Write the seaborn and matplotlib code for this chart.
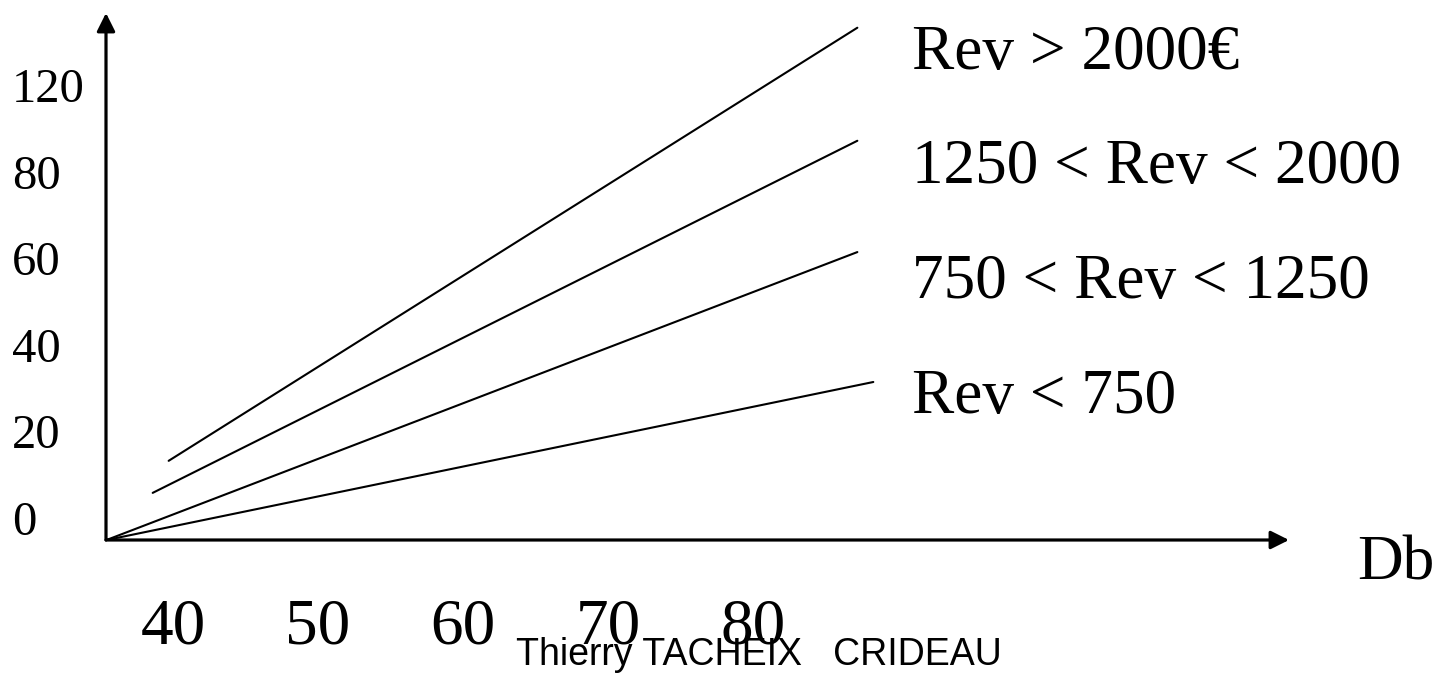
import pandas as pd
import numpy as np
import matplotlib
matplotlib.use('Agg')
import matplotlib.pyplot as plt
import seaborn as sns

# data (x in Db, y in the units of the left scale)
groups = ['Rev > 2000€', '1250 < Rev < 2000', '750 < Rev < 1250', 'Rev < 750']
db_start = [39.7, 38.6, 35.4, 35.4]
db_end = [87.2, 87.2, 87.2, 88.3]
val_start = [13.2, 5.8, -5.1, -5.1]
val_end = [113.2, 87.1, 61.4, 31.4]

x_ticks = [40, 50, 60, 70, 80]
x_tick_labels = ['40', '50', '60', '70', '80']
y_ticks = [0, 20, 40, 60, 80, 100]
y_tick_labels = ['0', '20', '40', '60', '80', '120']

x_name = 'Db'
footer = 'Thierry TACHEIX   CRIDEAU'

# long table for seaborn
df = pd.DataFrame({
    'group': groups * 2,
    'db': db_start + db_end,
    'val': val_start + val_end,
})

sns.set_theme(style='white')
plt.rcParams['font.family'] = ['Liberation Serif', 'DejaVu Serif']
plt.rcParams['text.color'] = 'black'
plt.rcParams['xtick.color'] = 'black'
plt.rcParams['ytick.color'] = 'black'

fig = plt.figure(figsize=(14.39, 6.74), dpi=100)
ax = fig.add_axes([106/1439, 134/674, 1183/1439, 527/674])

sns.lineplot(data=df, x='db', y='val', hue='group', hue_order=groups,
             palette=['black'] * 4, estimator=None, sort=False,
             legend=False, linewidth=1.5, ax=ax)

ax.set_xlim(35.38, 116.97)
ax.set_ylim(-5.08, 116.6)
ax.set_xlabel('')
ax.set_ylabel('')
for s in ax.spines.values():
    s.set_visible(False)

# axes drawn as arrows from the origin
arrow = dict(arrowstyle='-|>,head_length=11,head_width=5.5', mutation_scale=1,
             color='black', lw=2.3, shrinkA=0, shrinkB=0)
ax.annotate('', xy=(1, 0), xytext=(0, 0), xycoords='axes fraction',
            arrowprops=arrow, annotation_clip=False)
ax.annotate('', xy=(0, 1), xytext=(0, 0), xycoords='axes fraction',
            arrowprops=arrow, annotation_clip=False)

ax.set_xticks(x_ticks)
ax.set_xticklabels(x_tick_labels, fontsize=47, color='black')
ax.set_yticks(y_ticks)
ax.set_yticklabels(y_tick_labels, fontsize=35, color='black')
ax.tick_params(axis='x', length=0, pad=42)
ax.tick_params(axis='y', length=0, pad=67.7)
for lab in ax.get_yticklabels():
    lab.set_horizontalalignment('left')

# labels at the right end of each line
label_x = 91.0
label_y = [103.7, 77.4, 50.8, 24.2]
for name, ly in zip(groups, label_y):
    ax.text(label_x, ly, name, fontsize=45.5, va='baseline', ha='left',
            color='black', clip_on=False)

fig.text(1357/1439, 1 - 580/674, x_name, fontsize=45.5, va='baseline',
         color='black')
fig.text(516/1439, 1 - 665/674, footer, fontsize=27, va='baseline',
         color='black', family=['Liberation Sans', 'DejaVu Sans'])

fig.savefig('out.png', dpi=100, facecolor='white')
